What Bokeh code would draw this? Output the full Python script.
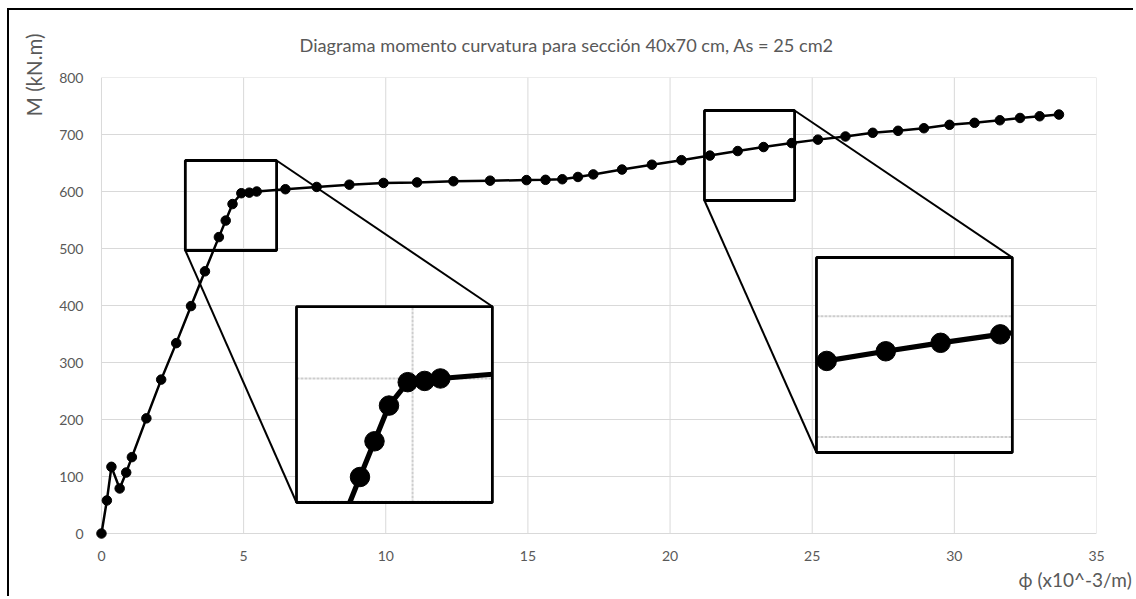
from bokeh.plotting import figure
from bokeh.models import Range1d, FixedTicker, Title
from bokeh.embed import file_html
from bokeh.resources import INLINE

# ---------------- data ----------------
phi = [0, 0.19, 0.35, 0.64, 0.87, 1.07, 1.58, 2.10, 2.63, 3.15, 3.64, 4.13, 4.37, 4.61,
       4.92, 5.20, 5.46, 6.47, 7.57, 8.72, 9.92, 11.10, 12.38, 13.67, 14.95, 15.62, 16.21,
       16.76, 17.30, 18.31, 19.36, 20.40, 21.40, 22.38, 23.29, 24.28, 25.20, 26.17, 27.13,
       28.02, 28.93, 29.83, 30.71, 31.60, 32.31, 33.00, 33.68]
moment = [0, 58, 117, 79, 107, 134, 202, 270, 334, 399, 460, 520, 549, 578,
          597, 598, 600, 604, 608, 612, 615, 616, 618, 619, 620, 620.5, 621.5,
          625.5, 630, 638.5, 647, 655, 663, 671, 678, 685, 691, 696.5, 703,
          706.5, 711, 717, 720.5, 725, 729, 732, 735]

x_ticks = [0, 5, 10, 15, 20, 25, 30, 35]
y_ticks = [0, 100, 200, 300, 400, 500, 600, 700, 800]

title_text = "Diagrama momento curvatura para sección 40x70 cm, As =  25 cm2"
y_label_text = "M (kN.m)"
x_label_text = "ϕ (x10^-3/m)"

# zoom windows (main data units): small box, magnified source window, inset destination
box1 = ((2.95, 6.16), (496.5, 654.4))
src1 = ((3.08, 6.32), (499.3, 658.4))
dst1 = ((6.86, 13.75), (54.4, 398.2))

box2 = ((21.21, 24.38), (584.2, 742.1))
src2 = ((21.23, 24.48), (587.2, 748.6))
dst2 = ((25.15, 32.04), (142.1, 484.2))

# ---------------- style ----------------
FONT = "Lato"
GREY = "#595959"
GRID = "#d9d9d9"

X_START, X_END = -0.21, 35
Y_START, Y_END = -10.5, 800

p = figure(width=1126, height=588, output_backend="svg", toolbar_location=None,
           x_range=Range1d(X_START, X_END), y_range=Range1d(Y_START, Y_END),
           min_border_left=86, min_border_right=39, min_border_top=67, min_border_bottom=59)
p.styles = {"border-left": "2px solid black", "border-top": "2px solid black",
            "margin-left": "7px", "margin-top": "8px"}
p.outline_line_color = None
p.background_fill_color = "white"
p.border_fill_color = "white"
p.xgrid.visible = False
p.ygrid.visible = False

for ax in (p.xaxis[0], p.yaxis[0]):
    ax.axis_line_color = None
    ax.major_tick_line_color = None
    ax.minor_tick_line_color = None
    ax.major_tick_out = 0
    ax.major_tick_in = 0
    ax.major_label_text_font = FONT
    ax.major_label_text_font_size = "14px"
    ax.major_label_text_color = GREY
p.xaxis[0].ticker = FixedTicker(ticks=x_ticks)
p.yaxis[0].ticker = FixedTicker(ticks=y_ticks)
p.xaxis[0].major_label_standoff = 11
p.yaxis[0].major_label_standoff = 12

# titles in the side panels
p.add_layout(Title(text=title_text, align="left", offset=204, standoff=42.3,
                   vertical_align="middle", text_font=FONT, text_font_size="18.2px",
                   text_font_style="normal", text_color=GREY), "above")
p.add_layout(Title(text=y_label_text, align="right", offset=-44, standoff=19,
                   vertical_align="middle", text_font=FONT, text_font_size="20.5px",
                   text_font_style="normal", text_color=GREY), "left")
p.add_layout(Title(text=x_label_text, align="right", offset=-35, standoff=6.4,
                   vertical_align="middle", text_font=FONT, text_font_size="19px",
                   text_font_style="normal", text_color=GREY), "below")

# gridlines
p.segment(x0=[x_ticks[0]] * len(y_ticks), x1=[x_ticks[-1]] * len(y_ticks), y0=y_ticks, y1=y_ticks,
          line_color=GRID, line_width=1)
p.segment(x0=x_ticks, x1=x_ticks, y0=[y_ticks[0]] * len(x_ticks), y1=[y_ticks[-1]] * len(x_ticks),
          line_color=GRID, line_width=1)

# main curve
p.line(phi, moment, line_color="black", line_width=2.5)
p.scatter(phi, moment, size=9.5, color="black")


def clip_segment(xa, ya, xb, yb, x0, x1, y0, y1):
    dx, dy = xb - xa, yb - ya
    t0, t1 = 0.0, 1.0
    for pp, q in ((-dx, xa - x0), (dx, x1 - xa), (-dy, ya - y0), (dy, y1 - ya)):
        if pp == 0:
            if q < 0:
                return None
        else:
            t = q / pp
            if pp < 0:
                if t > t1:
                    return None
                t0 = max(t0, t)
            else:
                if t < t0:
                    return None
                t1 = min(t1, t)
    return (xa + t0 * dx, ya + t0 * dy, xa + t1 * dx, ya + t1 * dy)


def clip_polyline(xs, ys, win):
    (x0, x1), (y0, y1) = win
    pieces, cx, cy = [], [], []
    for i in range(len(xs) - 1):
        c = clip_segment(xs[i], ys[i], xs[i + 1], ys[i + 1], x0, x1, y0, y1)
        if c is None:
            if cx:
                pieces.append((cx, cy))
                cx, cy = [], []
            continue
        ax_, ay_, bx_, by_ = c
        if cx and abs(cx[-1] - ax_) < 1e-9 and abs(cy[-1] - ay_) < 1e-9:
            cx.append(bx_)
            cy.append(by_)
        else:
            if cx:
                pieces.append((cx, cy))
            cx, cy = [ax_, bx_], [ay_, by_]
    if cx:
        pieces.append((cx, cy))
    return pieces


def draw_zoom(name, box, src, dst):
    (bx0, bx1), (by0, by1) = box
    (sx0, sx1), (sy0, sy1) = src
    (dx0, dx1), (dy0, dy1) = dst
    k_x = (dx1 - dx0) / (sx1 - sx0)
    k_y = (dy1 - dy0) / (sy1 - sy0)
    # small box
    p.quad(left=[bx0], right=[bx1], bottom=[by0], top=[by1], fill_color=None,
           line_color="black", line_width=2.8)
    # connectors
    p.segment(x0=[bx1, bx0], y0=[by1, by0], x1=[dx1, dx0], y1=[dy1, dy0],
              line_color="black", line_width=2)
    # inset background
    p.quad(left=[dx0], right=[dx1], bottom=[dy0], top=[dy1], fill_color="white",
           line_color=None)
    # extra ranges so that the src window maps onto the dst window
    xr, yr = name + "_x", name + "_y"
    p.extra_x_ranges[xr] = Range1d(sx0 + (X_START - dx0) / k_x, sx0 + (X_END - dx0) / k_x)
    p.extra_y_ranges[yr] = Range1d(sy0 + (Y_START - dy0) / k_y, sy0 + (Y_END - dy0) / k_y)
    # magnified gridlines
    gy = [t for t in y_ticks if sy0 < t < sy1]
    gx = [t for t in x_ticks if sx0 < t < sx1]
    if gy:
        p.segment(x0=[sx0] * len(gy), x1=[sx1] * len(gy), y0=gy, y1=gy,
                  line_color="#cdcdcd", line_width=2, line_dash="3 1",
                  x_range_name=xr, y_range_name=yr)
    if gx:
        p.segment(x0=gx, x1=gx, y0=[sy0] * len(gx), y1=[sy1] * len(gx),
                  line_color="#cdcdcd", line_width=2, line_dash="3 1",
                  x_range_name=xr, y_range_name=yr)
    # magnified curve
    pieces = clip_polyline(phi, moment, src)
    p.multi_line(xs=[pc[0] for pc in pieces], ys=[pc[1] for pc in pieces],
                 line_color="black", line_width=5.2,
                 x_range_name=xr, y_range_name=yr)
    px = [x for x, y in zip(phi, moment) if sx0 <= x <= sx1 and sy0 <= y <= sy1]
    py = [y for x, y in zip(phi, moment) if sx0 <= x <= sx1 and sy0 <= y <= sy1]
    p.scatter(px, py, size=19.5, color="black", x_range_name=xr, y_range_name=yr)
    # inset frame
    p.quad(left=[dx0], right=[dx1], bottom=[dy0], top=[dy1], fill_color=None,
           line_color="black", line_width=2.8)


draw_zoom("z1", box1, src1, dst1)
draw_zoom("z2", box2, src2, dst2)

open("out.html", "w").write(file_html(p, INLINE))
